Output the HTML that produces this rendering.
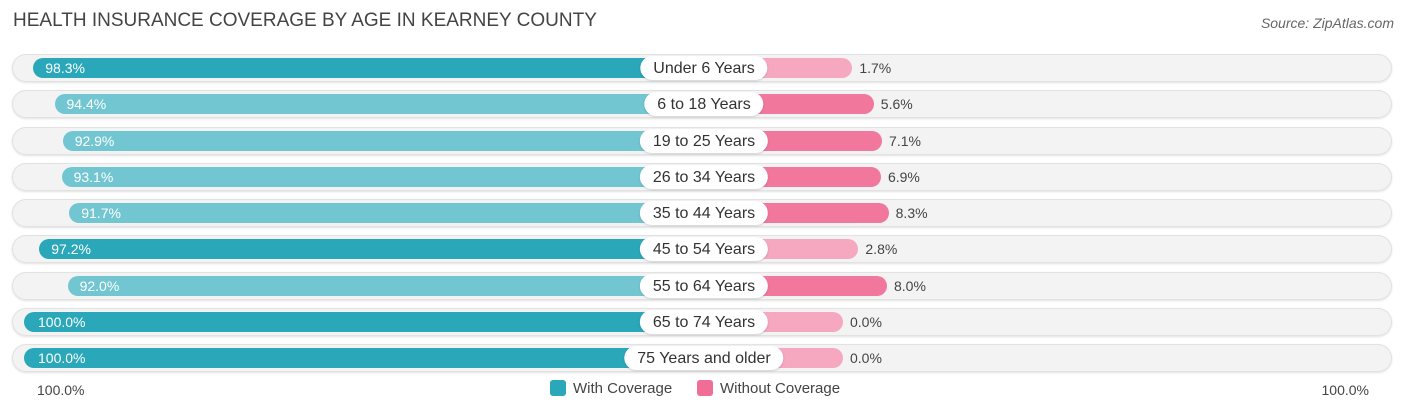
<!DOCTYPE html>
<html><head><meta charset="utf-8"><style>
body{margin:0;width:1406px;height:414px;background:#fff;font-family:"Liberation Sans",sans-serif;position:relative;overflow:hidden}
.t{position:absolute;left:13px;top:10px;font-size:19px;color:#444}
.s{position:absolute;right:12px;top:15px;font-size:14px;color:#666;font-style:italic}
.row{position:absolute;left:12px;width:1380px;height:28px;border-radius:14px;background:#f3f3f3;box-shadow:0 0 0 1px #e2e2e2 inset,0 1px 2px rgba(0,0,0,.12)}
.bar{position:absolute;height:20px;border-radius:10px}
.lab{position:absolute;height:24px;line-height:25px;border-radius:12px;background:#fff;font-size:16px;color:#333;text-align:center;padding:0 13px;transform:translateX(-50%);box-shadow:0 1px 2px rgba(0,0,0,.15)}
.v{position:absolute;font-size:14px;line-height:20px}
</style></head><body>
<div class="t">HEALTH INSURANCE COVERAGE BY AGE IN KEARNEY COUNTY</div>
<div class="s">Source: ZipAtlas.com</div>
<div id="chart"></div>
<div class="v" style="left:37px;top:380px;color:#444">100.0%</div>
<div class="v" style="right:37px;top:380px;color:#444">100.0%</div>
<div style="position:absolute;left:550px;top:380px;font-size:15px;color:#444"><span style="display:inline-block;width:16px;height:16px;background:#2aa7b8;border-radius:3px;vertical-align:-3px;margin-right:7px"></span>With Coverage</div>
<div style="position:absolute;left:697px;top:380px;font-size:15px;color:#444"><span style="display:inline-block;width:16px;height:16px;background:#f06d96;border-radius:3px;vertical-align:-3px;margin-right:7px"></span>Without Coverage</div>
<script>
const categories=["Under 6 Years","6 to 18 Years","19 to 25 Years","26 to 34 Years","35 to 44 Years","45 to 54 Years","55 to 64 Years","65 to 74 Years","75 Years and older"];
const withCov=[98.3,94.4,92.9,93.1,91.7,97.2,92.0,100.0,100.0];
const withoutCov=[1.7,5.6,7.1,6.9,8.3,2.8,8.0,0.0,0.0];
const C=704;
function xl(v){return 24+(100-v)*5.45;}
function xr(v){return 843+v*5.5;}
function yc(i){return 68+i*36.25;}
const root=document.getElementById('chart');
categories.forEach((c,i)=>{
 const y=yc(i);
 const r=document.createElement('div');r.className='row';r.style.top=(y-14)+'px';
 
 
 document.body.appendChild(r);
 const b=document.createElement('div');b.className='bar';
 const x=xl(withCov[i]);b.style.left=x+'px';b.style.width=(C-x)+'px';b.style.top=(y-10)+'px';
 b.style.background=withCov[i]>=96?'#2aa7b8':'#72c6d1';
 
 
 document.body.appendChild(b);
 const p=document.createElement('div');p.className='bar';
 const xe=xr(withoutCov[i]);p.style.left=C+'px';p.style.width=(xe-C)+'px';p.style.top=(y-10)+'px';
 p.style.background=withoutCov[i]>=4?'#f2779d':'#f5a8c0';
 
 
 document.body.appendChild(p);
 const l=document.createElement('div');l.className='lab';l.style.left=C+'px';l.style.top=(y-12)+'px';l.textContent=c;
 
 
 document.body.appendChild(l);
 const v1=document.createElement('div');v1.className='v';v1.style.left=(x+(withCov[i]>=99.9?14:12))+'px';v1.style.top=(y-10)+'px';v1.style.color='#fff';v1.textContent=withCov[i].toFixed(1)+'%';
 
 
 document.body.appendChild(v1);
 const v2=document.createElement('div');v2.className='v';v2.style.left=(xe+7)+'px';v2.style.top=(y-10)+'px';v2.style.color='#444';v2.textContent=withoutCov[i].toFixed(1)+'%';
 
 
 document.body.appendChild(v2);
});
</script>
</body></html>
